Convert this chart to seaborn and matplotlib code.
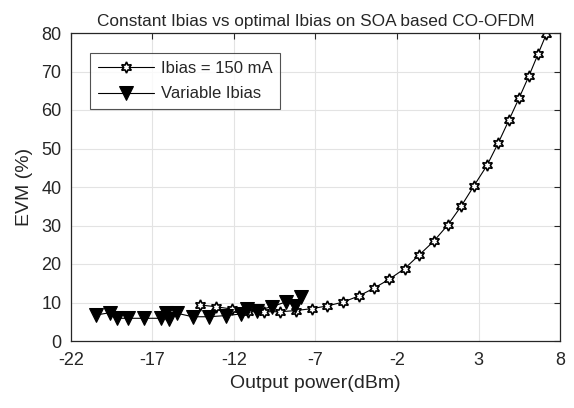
import matplotlib
matplotlib.use("Agg")
import matplotlib.pyplot as plt
import seaborn as sns
import pandas as pd

const_x = [-14.08, -13.1, -12.14, -11.12, -10.16, -9.18, -8.22, -7.24, -6.29, -5.31,
           -4.34, -3.42, -2.49, -1.53, -0.65, 0.25, 1.13, 1.95, 2.72, 3.52,
           4.22, 4.87, 5.50, 6.10, 6.65, 7.16]
const_y = [9.35, 8.9, 8.3, 7.6, 7.6, 7.6, 7.9, 8.4, 9.1, 10.1,
           11.7, 13.7, 16.0, 18.8, 22.3, 25.9, 30.2, 35.1, 40.3, 45.6,
           51.5, 57.4, 63.2, 68.9, 74.5, 79.7]

var_x = [-20.47, -19.61, -19.2, -18.5, -17.52, -16.49, -16.18, -15.98, -15.49, -15.49,
         -14.54, -13.53, -12.52, -11.59, -11.23, -10.61, -9.69, -8.78, -8.27, -7.86]
var_y = [6.75, 7.35, 5.9, 5.9, 5.9, 5.9, 7.2, 5.6, 8.2, 6.2,
         6.3, 6.3, 6.6, 7.0, 8.2, 7.9, 8.9, 10.2, 9.1, 11.5]

x_ticks = [-22, -17, -12, -7, -2, 3, 8]
y_ticks = [0, 10, 20, 30, 40, 50, 60, 70, 80]

sns.set_style("white")
plt.rcParams['font.family'] = ['Liberation Sans', 'DejaVu Sans']
plt.rcParams['axes.unicode_minus'] = False

fig = plt.figure(figsize=(5.74, 4.08), dpi=100)
ax = fig.add_axes([71/574, 1 - 341/408, (560-71)/574, (341-33)/408])

df_c = pd.DataFrame({"x": const_x, "y": const_y})
df_v = pd.DataFrame({"x": var_x, "y": var_y})

sns.lineplot(data=df_c, x="x", y="y", ax=ax, color="black", lw=0.8,
             marker=(6, 1, 0), markersize=8, markerfacecolor="white",
             markeredgecolor="black", markeredgewidth=1.2, sort=False,
             label="Ibias = 150 mA")
sns.lineplot(data=df_v, x="x", y="y", ax=ax, color="black", lw=0.8,
             marker="v", markersize=9.5, markerfacecolor="black",
             markeredgecolor="black", sort=False, label="Variable Ibias")

ax.set_xlim(-22, 8)
ax.set_ylim(0, 80)
ax.set_xticks(x_ticks)
ax.set_yticks(y_ticks)
ax.tick_params(direction="in", length=4, labelsize=13, colors="#262626",
               top=True, right=True, labelcolor="#262626")
ax.tick_params(axis="x", pad=8)
ax.tick_params(axis="y", pad=7)
ax.grid(True, color="#e3e3e3", lw=0.8)
ax.set_axisbelow(True)
for s in ax.spines.values():
    s.set_color("#262626")
    s.set_linewidth(0.9)
ax.set_xlabel("Output power(dBm)", fontsize=14, color="#262626", labelpad=4)
ax.set_ylabel("EVM (%)", fontsize=14, color="#262626", labelpad=6)
ax.set_title("Constant Ibias vs optimal Ibias on SOA based CO-OFDM", fontsize=12.4, pad=5)
leg = ax.legend(loc="upper left", bbox_to_anchor=(0.039, 0.935), fontsize=12,
                frameon=True, fancybox=False, edgecolor="#262626",
                handlelength=3.4, borderpad=0.45, labelspacing=0.65,
                handletextpad=0.4, borderaxespad=0)
leg.get_frame().set_linewidth(0.8)

fig.savefig("out.png", dpi=100)
